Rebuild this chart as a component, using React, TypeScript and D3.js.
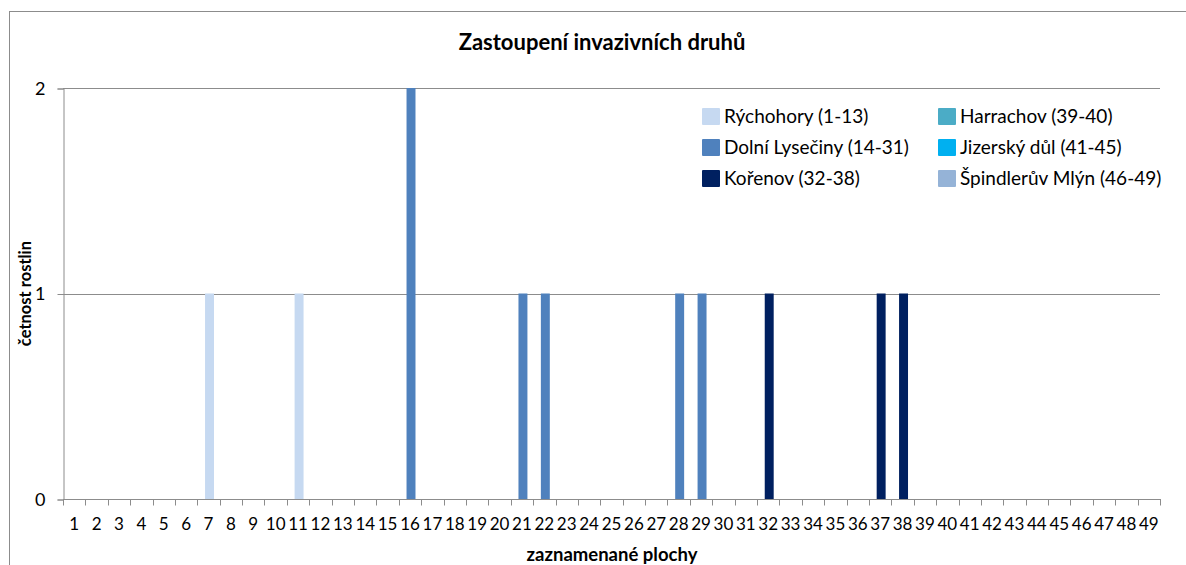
import React, { useEffect, useRef } from "react";
import { select, scaleBand, scaleLinear, axisLeft, axisBottom } from "d3";

const categories = Array.from({ length: 49 }, (_, i) => String(i + 1));

// četnost rostlin per plot 1..49
const counts = [
  0, 0, 0, 0, 0, 0, 1, 0, 0, 0,
  1, 0, 0, 0, 0, 2, 0, 0, 0, 0,
  1, 1, 0, 0, 0, 0, 0, 1, 1, 0,
  0, 1, 0, 0, 0, 0, 1, 1, 0, 0,
  0, 0, 0, 0, 0, 0, 0, 0, 0,
];

const localities = [
  { name: "Rýchohory (1-13)", from: 1, to: 13, color: "#C6D9F1" },
  { name: "Dolní Lysečiny (14-31)", from: 14, to: 31, color: "#4F81BD" },
  { name: "Kořenov (32-38)", from: 32, to: 38, color: "#002060" },
  { name: "Harrachov (39-40)", from: 39, to: 40, color: "#4BACC6" },
  { name: "Jizerský důl (41-45)", from: 41, to: 45, color: "#00B0F0" },
  { name: "Špindlerův Mlýn (46-49)", from: 46, to: 49, color: "#95B3D7" },
];

const yTicks = [0, 1, 2];

const FONT = "Lato, 'Open Sans', sans-serif";

const colorFor = (plot) => {
  const loc = localities.find((l) => plot >= l.from && plot <= l.to);
  return loc ? loc.color : "#4F81BD";
};

const App = () => {
  const svgRef = useRef(null);
  const width = 1186;
  const height = 565;
  const left = 63;
  const right = 1160;
  const top = 88;
  const bottom = 499;

  useEffect(() => {
    const svg = select(svgRef.current);
    svg.selectAll("*").remove();

    // outer chart border
    svg
      .append("rect")
      .attr("x", 9.5)
      .attr("y", 11.5)
      .attr("width", 1200)
      .attr("height", 600)
      .attr("fill", "#fff")
      .attr("stroke", "#8c8c8c");

    const xScale = scaleBand().domain(categories).range([left, right]).padding(0);
    const yScale = scaleLinear().domain([0, 2]).range([bottom, top]);

    // gridlines
    svg
      .append("g")
      .selectAll("line")
      .data(yTicks.filter((t) => t > 0))
      .enter()
      .append("line")
      .attr("x1", left)
      .attr("x2", right)
      .attr("y1", (d) => Math.round(yScale(d)) + 0.5)
      .attr("y2", (d) => Math.round(yScale(d)) + 0.5)
      .attr("stroke", "#8c8c8c");

    // bars
    const barW = xScale.bandwidth() * 0.4;
    svg
      .append("g")
      .selectAll("rect")
      .data(counts.map((v, i) => ({ plot: i + 1, v })).filter((d) => d.v > 0))
      .enter()
      .append("rect")
      .attr("x", (d) => xScale(String(d.plot)) + xScale.bandwidth() / 2 - barW / 2 + 1)
      .attr("width", barW)
      .attr("y", (d) => yScale(d.v))
      .attr("height", (d) => bottom - yScale(d.v))
      .attr("fill", (d) => colorFor(d.plot));

    // y axis
    const yAxis = axisLeft(yScale).tickValues(yTicks).tickFormat((d) => String(d)).tickSize(6).tickPadding(12);
    svg
      .append("g")
      .attr("transform", `translate(${left + 0.5},0.5)`)
      .call(yAxis)
      .call((g) => g.select(".domain").attr("stroke", "#8c8c8c"))
      .call((g) => g.selectAll(".tick line").attr("stroke", "#8c8c8c"))
      .call((g) =>
        g
          .selectAll("text")
          .attr("font-family", FONT)
          .attr("font-size", 18)
          .attr("fill", "#000")
      );

    // x axis: labels centred in bands, ticks on band edges
    const xAxis = axisBottom(xScale).tickSize(0).tickPadding(18);
    svg
      .append("g")
      .attr("transform", `translate(0,${bottom + 0.5})`)
      .call(xAxis)
      .call((g) => g.select(".domain").remove())
      .call((g) =>
        g
          .selectAll("text")
          .attr("font-family", FONT)
          .attr("font-size", 17)
          .attr("fill", "#000")
      );

    const edges = categories.map((c) => xScale(c)).concat([right]);
    svg
      .append("g")
      .selectAll("line")
      .data(edges)
      .enter()
      .append("line")
      .attr("x1", (d) => Math.round(d) + 0.5)
      .attr("x2", (d) => Math.round(d) + 0.5)
      .attr("y1", bottom + 0.5)
      .attr("y2", bottom + 6.5)
      .attr("stroke", "#8c8c8c");
    svg
      .append("line")
      .attr("x1", left)
      .attr("x2", right + 1)
      .attr("y1", bottom + 0.5)
      .attr("y2", bottom + 0.5)
      .attr("stroke", "#8c8c8c");

    // titles
    svg
      .append("text")
      .attr("x", 602)
      .attr("y", 50)
      .attr("text-anchor", "middle")
      .attr("font-family", FONT)
      .attr("font-weight", "bold")
      .attr("font-size", 22)
      .text("Zastoupení invazivních druhů");

    svg
      .append("text")
      .attr("x", 612)
      .attr("y", 561)
      .attr("text-anchor", "middle")
      .attr("font-family", FONT)
      .attr("font-weight", "bold")
      .attr("font-size", 18.5)
      .text("zaznamenané plochy");

    svg
      .append("text")
      .attr("transform", `translate(31,${(top + bottom) / 2}) rotate(-90)`)
      .attr("text-anchor", "middle")
      .attr("font-family", FONT)
      .attr("font-weight", "bold")
      .attr("font-size", 16.5)
      .text("četnost rostlin");

    // legend, two columns of three
    const legend = svg
      .selectAll(".legend-item")
      .data(localities)
      .enter()
      .append("g")
      .classed("legend-item", true)
      .attr("transform", (_, i) => {
        const col = Math.floor(i / 3);
        const row = i % 3;
        return `translate(${col === 0 ? 702 : 938},${108 + row * 31})`;
      });

    legend
      .append("rect")
      .attr("width", 18)
      .attr("height", 17)
      .attr("rx", 1)
      .attr("fill", (d) => d.color);

    legend
      .append("text")
      .attr("x", 22)
      .attr("y", 15)
      .attr("font-family", FONT)
      .attr("font-size", 19)
      .text((d) => d.name);
  }, []);

  return (
    <svg
      ref={svgRef}
      width={width}
      height={height}
      style={{ position: "absolute", left: 0, top: 0, display: "block", background: "#fff" }}
    />
  );
};

export default App;
